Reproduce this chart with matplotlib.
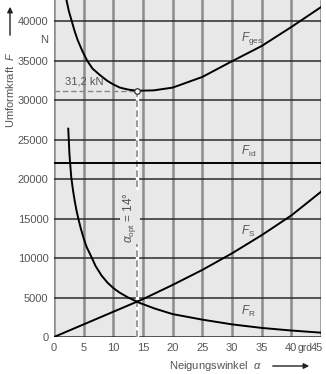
import matplotlib
matplotlib.use("Agg")
import matplotlib.pyplot as plt
from matplotlib.transforms import ScaledTranslation

plt.rcParams["font.family"] = ["Liberation Sans", "DejaVu Sans"]
plt.rcParams["mathtext.fontset"] = "custom"
plt.rcParams["mathtext.it"] = "Liberation Sans:italic"
plt.rcParams["mathtext.rm"] = "Liberation Sans"

# values (alpha in grd, force in N)
ges_alpha = [2.1, 2.5, 3.0, 3.5, 4.0, 4.8, 5.6, 6.5, 7.8, 9.0, 10.0, 11.1, 12.5, 14.0, 16.8, 20, 25, 30, 35, 40, 45]
ges_force = [42700, 41300, 40000, 38700, 37600, 36200, 35000, 34000, 33150, 32450, 32000, 31600, 31350,
             31200, 31250, 31600, 32950, 34940, 36870, 39280, 41800]

id_alpha = [0, 45]
id_force = [22000, 22000]

s_alpha = [0, 5, 10, 15, 20, 25, 30, 35, 40, 45]
s_force = [0, 1600, 3200, 4800, 6600, 8500, 10600, 12900, 15400, 18400]

r_alpha = [2.4, 2.6, 2.9, 3.2, 3.5, 3.8, 4.1, 4.5, 5.0, 5.5, 6.4, 7.0, 8.0, 9.0, 10.0, 11.0, 12.5,
           14.5, 17, 20, 25, 30, 35, 40, 45]
r_force = [26400, 23200, 20300, 18600, 17200, 16000, 15000, 13800, 12500, 11400, 10000, 9000, 7800,
           6900, 6200, 5650, 5000, 4300, 3600, 2900, 2200, 1600, 1150, 820, 550]

alpha_opt = 14
force_opt = 31200

x_ticks = [0, 5, 10, 15, 20, 25, 30, 35, 40, 45]
x_ticklabels = ["0", "5", "10", "15", "20", "25", "30", "35", "40", "45"]
y_ticks = [0, 5000, 10000, 15000, 20000, 25000, 30000, 35000, 40000]

TXT = "#555555"
BG = "#e8e8e8"

fig = plt.figure(figsize=(3.26, 3.74), dpi=100)
ax = fig.add_axes([54 / 326, 37 / 374, 267 / 326, 337 / 374])
ax.set_facecolor(BG)
ax.set_xlim(0, 45)
ax.set_ylim(0, 42700)

for x in x_ticks:
    ax.axvline(x, color="#8c8c8c", lw=1.8, zorder=1)
for y in y_ticks:
    ax.axhline(y, color="#2a2a2a", lw=1.1, zorder=1)
for sp in ax.spines.values():
    sp.set_visible(False)

ax.plot(ges_alpha, ges_force, color="black", lw=1.4, zorder=3)
ax.plot(id_alpha, id_force, color="black", lw=1.4, zorder=3)
ax.plot(s_alpha, s_force, color="black", lw=1.4, zorder=3)
ax.plot(r_alpha, r_force, color="black", lw=1.4, zorder=3)

# optimum markers
ax.plot([0, alpha_opt], [force_opt, force_opt], color="#888888", lw=1.0, ls=(0, (4, 2)), zorder=2)
ax.plot([alpha_opt, alpha_opt], [0, force_opt], color="white", lw=2.4, zorder=2)
ax.plot([alpha_opt, alpha_opt], [0, force_opt], color="#888888", lw=1.2, ls=(0, (4, 2)), zorder=2)
ax.plot([alpha_opt], [force_opt], marker="o", ms=4, mfc="white", mec="#333333", mew=0.9, zorder=4)

ax.text(1.9, 31700, "31,2 kN", color=TXT, fontsize=8, ha="left", va="bottom")
ax.text(12.8, 15200, r"$\alpha_{\rm opt}$ = 14°", color=TXT, fontsize=8.5, rotation=90,
        ha="center", va="center", bbox=dict(facecolor=BG, edgecolor="none", pad=1))

ax.text(31.5, 36800, r"$F_{\rm ges}$", color=TXT, fontsize=8.5, ha="left", va="bottom")
ax.text(31.5, 22600, r"$F_{\rm id}$", color=TXT, fontsize=8.5, ha="left", va="bottom")
ax.text(31.5, 12400, r"$F_{\rm S}$", color=TXT, fontsize=8.5, ha="left", va="bottom")
ax.text(31.5, 2300, r"$F_{\rm R}$", color=TXT, fontsize=8.5, ha="left", va="bottom")

ax.set_xticks(x_ticks)
ax.set_xticklabels(x_ticklabels)
ax.set_yticks(y_ticks)
ax.set_yticklabels([str(v) for v in y_ticks])
ax.tick_params(length=0, labelsize=8, colors=TXT, pad=4)
last = ax.get_xticklabels()[-1]
last.set_horizontalalignment("right")
last.set_transform(last.get_transform() + ScaledTranslation(2 / 100, 0, fig.dpi_scale_trans))
ax.annotate("grd", xy=(42.25, 0), xycoords=("data", "axes fraction"), xytext=(0, -4),
            textcoords="offset points", color=TXT, fontsize=7.5, ha="center", va="top")

ax.text(-1.0, 37600, "N", color=TXT, fontsize=8, ha="right", va="center")

fig.text(10 / 326, 1 - 90 / 374, r"Umformkraft  $F$", color=TXT, fontsize=8,
         rotation=90, ha="center", va="center")
fig.add_artist(matplotlib.patches.FancyArrowPatch((10 / 326, 1 - 38 / 374), (10 / 326, 1 - 4 / 374),
                                                  transform=fig.transFigure, arrowstyle="-|>",
                                                  mutation_scale=8, color="#222222", lw=1.0))

fig.text(262 / 326, 1 - 366 / 374, r"Neigungswinkel  $\alpha$", color=TXT, fontsize=8,
         ha="right", va="center")
fig.add_artist(matplotlib.patches.FancyArrowPatch((270 / 326, 1 - 366 / 374), (312 / 326, 1 - 366 / 374),
                                                  transform=fig.transFigure, arrowstyle="-|>",
                                                  mutation_scale=8, color="#222222", lw=1.0))

fig.savefig("out.png", dpi=100)
